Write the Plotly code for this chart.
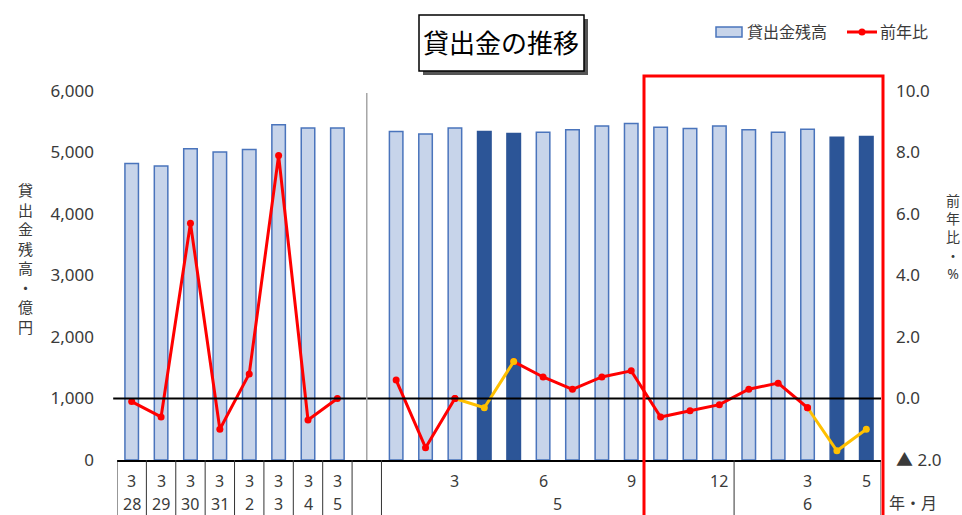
import plotly.graph_objects as go

# ---------------- data ----------------
annual_years = ["28", "29", "30", "31", "2", "3", "4", "5"]   # 各年3月末
annual_month = "3"
loans_annual = [4820, 4780, 5060, 5010, 5050, 5450, 5400, 5400]
yoy_annual = [-0.1, -0.6, 5.7, -1.0, 0.8, 7.9, -0.7, 0.0]

monthly_years = ["5"] * 12 + ["6"] * 5
monthly_months = [1, 2, 3, 4, 5, 6, 7, 8, 9, 10, 11, 12, 1, 2, 3, 4, 5]
loans_monthly = [5340, 5300, 5400, 5340, 5310, 5330, 5370, 5430, 5470,
                 5410, 5390, 5430, 5370, 5330, 5380, 5250, 5260]
yoy_monthly = [0.6, -1.6, 0.0, -0.3, 1.2, 0.7, 0.3, 0.7, 0.9,
               -0.6, -0.4, -0.2, 0.3, 0.5, -0.3, -1.7, -1.0]
monthly_tick_months = {"5": [3, 6, 9, 12], "6": [3, 5]}
dark_bar_months = [("5", 4), ("5", 5), ("6", 4), ("6", 5)]
yellow_segments = [(2, 4), (14, 16)]   # monthly index ranges drawn in yellow
red_segments = [(0, 2), (4, 14)]

left_ticks = [0, 1000, 2000, 3000, 4000, 5000, 6000]
right_ticks = [-2, 0, 2, 4, 6, 8, 10]
right_tick_text = ["▲ 2.0", "0.0", "2.0", "4.0", "6.0", "8.0", "10.0"]

# ---------------- build ----------------
cats_annual = ["A" + y for y in annual_years]
cats_monthly = [f"{y}-{m}" for y, m in zip(monthly_years, monthly_months)]
cats = cats_annual + ["gap"] + cats_monthly
n_ann = len(cats_annual)
off = n_ann + 1

LIGHT = "#C7D4EA"
LIGHT_EDGE = "#4A74BC"
DARK = "#2C5597"
RED = "#FF0000"
YEL = "#FFC000"
TXT = "#3A3A3A"
FONT = "Noto Sans, Noto Sans CJK JP, sans-serif"

loans = loans_annual + [None] + loans_monthly
is_dark = [False] * off + [(y, m) in dark_bar_months for y, m in zip(monthly_years, monthly_months)]
bar_fill = [DARK if d else LIGHT for d in is_dark]
bar_edge = [DARK if d else LIGHT_EDGE for d in is_dark]

def seg_vals(segs):
    out = []
    for k, v in enumerate(yoy_monthly):
        out.append(v if any(a <= k <= b for a, b in segs) else None)
    return out

red_vals = yoy_annual + [None] + seg_vals(red_segments)
yel_vals = [None] * off + seg_vals(yellow_segments)
yel_marker = [YEL] * len(cats)
for a, b in yellow_segments:
    yel_marker[off + a] = RED

fig = go.Figure()
fig.add_trace(go.Bar(x=cats, y=loans, width=0.46,
                     marker=dict(color=bar_fill, line=dict(color=bar_edge, width=1.5)),
                     name="貸出金残高", showlegend=False, yaxis="y"))
fig.add_trace(go.Scatter(x=cats, y=red_vals, mode="lines+markers", yaxis="y2",
                         line=dict(color=RED, width=3), marker=dict(color=RED, size=7),
                         name="前年比", showlegend=False, connectgaps=False))
fig.add_trace(go.Scatter(x=cats, y=yel_vals, mode="lines+markers", yaxis="y2",
                         line=dict(color=YEL, width=3), marker=dict(color=yel_marker, size=7),
                         showlegend=False, connectgaps=False))

# page geometry (body margin removed via post_script)
PW, PH = 962, 515
L, R, T, B = 117, 881, 91, 460

def px(p):
    return (p - L) / (R - L)

def py(p):
    return (B - p) / (B - T)

def note(x, y, text, size=16, color=TXT, xref="paper", xanchor="center"):
    return dict(x=x, y=y, xref=xref, yref="paper", text=text, showarrow=False,
                xanchor=xanchor, yanchor="middle", font=dict(size=size, color=color))

shapes = []
annotations = []

# zero line of right axis
shapes.append(dict(type="line", xref="paper", yref="y2", x0=-0.005, x1=1.0, y0=0, y1=0,
                   line=dict(color="black", width=2)))
# gray separator in gap
shapes.append(dict(type="line", xref="x", yref="paper", x0=n_ann, x1=n_ann, y0=0, y1=py(93),
                   line=dict(color="#A6A6A6", width=1.5)))

# table below axis
ROW1, ROW2 = 481, 504
tb = py(530)
for i in range(n_ann + 2):
    shapes.append(dict(type="line", xref="x", yref="paper", x0=i - 0.5, x1=i - 0.5, y0=0, y1=tb,
                       line=dict(color="#333333", width=1)))
yr_bounds = []
start = 0
for k in range(1, len(monthly_years) + 1):
    if k == len(monthly_years) or monthly_years[k] != monthly_years[start]:
        yr_bounds.append((start, k - 1, monthly_years[start]))
        start = k
for a, b, y in yr_bounds:
    shapes.append(dict(type="line", xref="x", yref="paper", x0=off + b + 0.5, x1=off + b + 0.5,
                       y0=0, y1=tb, line=dict(color="#333333", width=1)))
    annotations.append(note(off + (a + b) / 2, py(ROW2), y, xref="x"))
for i, y in enumerate(annual_years):
    annotations.append(note(cats_annual[i], py(ROW1), annual_month, xref="x"))
    annotations.append(note(cats_annual[i], py(ROW2), y, xref="x"))
for k, (y, m) in enumerate(zip(monthly_years, monthly_months)):
    if m in monthly_tick_months[y]:
        annotations.append(note(cats_monthly[k], py(ROW1), str(m), xref="x"))

annotations.append(note(px(913), py(503), "年・月"))

# axis titles (stacked vertical text)
annotations.append(note(px(25), py(258), "<br>".join("貸出金残高・億円"), size=15))
annotations.append(note(px(953), py(237), "<br>".join("前年比・%"), size=14))

# red highlight box
shapes.append(dict(type="rect", xref="paper", yref="paper", x0=px(644), x1=px(883),
                   y0=py(540), y1=py(76), line=dict(color="#FF0000", width=3)))

# title box with shadow
shapes.append(dict(type="rect", xref="paper", yref="paper", x0=px(423), x1=px(588),
                   y0=py(75), y1=py(19), fillcolor="#555555", line=dict(width=0)))
shapes.append(dict(type="rect", xref="paper", yref="paper", x0=px(419), x1=px(584),
                   y0=py(71), y1=py(15), fillcolor="white", line=dict(color="black", width=1.5)))
annotations.append(note(px(501), py(43), "貸出金の推移", size=26, color="black"))

# manual legend
shapes.append(dict(type="rect", xref="paper", yref="paper", x0=px(716), x1=px(742),
                   y0=py(37), y1=py(27), fillcolor=LIGHT, line=dict(color=LIGHT_EDGE, width=1.5)))
annotations.append(note(px(745), py(32), "貸出金残高", size=16, xanchor="left"))
shapes.append(dict(type="line", xref="paper", yref="paper", x0=px(847), x1=px(877),
                   y0=py(32), y1=py(32), line=dict(color=RED, width=3)))
shapes.append(dict(type="circle", xref="paper", yref="paper", x0=px(858.5), x1=px(865.5),
                   y0=py(35.5), y1=py(28.5), fillcolor=RED, line=dict(color=RED, width=0)))
annotations.append(note(px(878), py(32), "前年比", size=16, xanchor="left"))

fig.update_layout(
    width=PW, height=PH,
    margin=dict(l=L, r=PW - R, t=T, b=PH - B),
    paper_bgcolor="white", plot_bgcolor="white",
    font=dict(family=FONT, color=TXT),
    xaxis=dict(type="category", categoryorder="array", categoryarray=cats,
               range=[-0.5, len(cats) - 0.5], showticklabels=False, showgrid=False,
               showline=True, linecolor="black", linewidth=1.5, ticks=""),
    yaxis=dict(range=[0, 6000], tickvals=left_ticks, tickformat=",", showgrid=False,
               zeroline=False, showline=False, ticks="", ticklabelstandoff=22,
               tickfont=dict(size=17, color=TXT)),
    yaxis2=dict(range=[-2, 10], overlaying="y", side="right", tickvals=right_ticks,
                ticktext=right_tick_text, showgrid=False, zeroline=False, showline=False,
                ticks="", ticklabelstandoff=14, tickfont=dict(size=17, color=TXT)),
    shapes=shapes, annotations=annotations, showlegend=False,
)

fig.write_html("out.html", config={"displayModeBar": False},
               post_script="document.body.style.margin='0';document.body.style.overflow='hidden';")
